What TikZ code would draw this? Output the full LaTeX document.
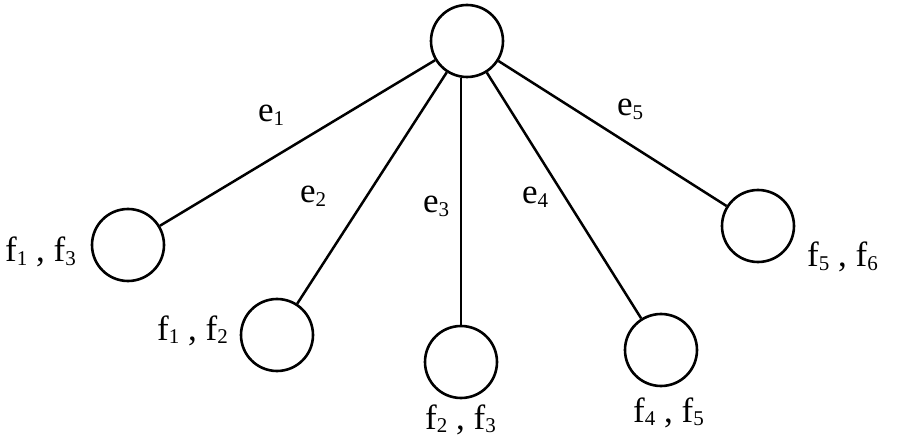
\documentclass[tikz,border=0pt]{standalone}
\usepackage{fontspec}
\setmainfont{Liberation Serif}
\newcommand{\mysub}[1]{\raisebox{-3.5pt}{\fontsize{21}{22}\selectfont #1}}
\begin{document}
\begin{tikzpicture}[x=1pt,y=-1pt,
  vert/.style={circle,draw,line width=2.6pt,minimum size=72pt,inner sep=0pt,fill=white},
  edgeline/.style={line width=2.5pt},
  lbl/.style={inner sep=0pt,anchor=base west,font=\fontsize{35}{40}\selectfont}]
\useasboundingbox (0,0) rectangle (902,438);
\clip (0,0) rectangle (902,438);
\node[vert] (root) at (467,41) {};
\node[vert] (c1) at (128,245) {};
\node[vert] (c2) at (277,335) {};
\node[vert] (c3) at (461,362) {};
\node[vert] (c4) at (661,350) {};
\node[vert] (c5) at (758,226) {};
\draw[edgeline] (root) -- (c1);
\draw[edgeline] (root) -- (c2);
\draw[edgeline] (c3.north) -- (c3.north |- root.south);
\draw[edgeline] (root) -- (c4);
\draw[edgeline] (root) -- (c5);
\node[lbl] (le1) at (258,122) {e\mysub{1}};
\node[lbl] (le2) at (300,203) {e\mysub{2}};
\node[lbl] (le3) at (423,213) {e\mysub{3}};
\node[lbl] (le4) at (522,204) {e\mysub{4}};
\node[lbl] (le5) at (617,116) {e\mysub{5}};
\node[lbl] (lf1) at (5,262) {f\mysub{1} , f\mysub{3}};
\node[lbl] (lf2) at (157,340) {f\mysub{1} , f\mysub{2}};
\node[lbl] (lf3) at (425,429) {f\mysub{2} , f\mysub{3}};
\node[lbl] (lf4) at (633,422) {f\mysub{4} , f\mysub{5}};
\node[lbl] (lf5) at (807,267) {f\mysub{5} , f\mysub{6}};
\end{tikzpicture}
\end{document}
